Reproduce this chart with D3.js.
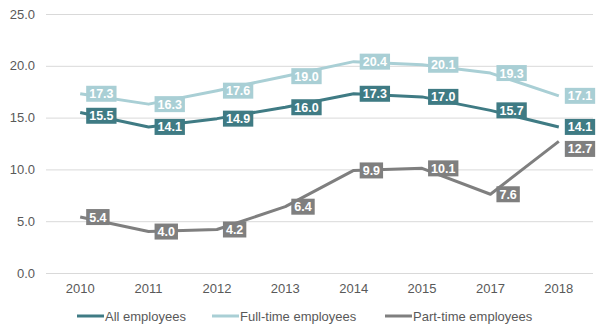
<!DOCTYPE html>
<html>
<head>
<meta charset="utf-8">
<script src="https://cdn.jsdelivr.net/npm/d3@7"></script>
<style>
  html, body { margin: 0; padding: 0; background: #fff; }
  svg { display: block; font-family: "Liberation Sans", Arial, sans-serif; }
</style>
</head>
<body>
<svg id="chart" width="608" height="336"></svg>
<script>
// Chart data
const years = ["2010", "2011", "2012", "2013", "2014", "2015", "2017", "2018"];
const allEmployees = [15.5, 14.1, 14.9, 16.0, 17.3, 17.0, 15.7, 14.1];
const fullTime = [17.3, 16.3, 17.6, 19.0, 20.4, 20.1, 19.3, 17.1];
const partTime = [5.4, 4.0, 4.2, 6.4, 9.9, 10.1, 7.6, 12.7];
const yTicks = [0, 5, 10, 15, 20, 25];

const seriesNames = ["All employees", "Full-time employees", "Part-time employees"];
const seriesColors = ["#3f7b84", "#a9cfd5", "#7f7f7f"];
const series = [allEmployees, fullTime, partTime].map((values, i) => ({
  name: seriesNames[i], color: seriesColors[i], values
}));

const svg = d3.select("#chart");
const margin = { left: 46, right: 15, top: 14, bottom: 63 };
const W = 608, H = 336;

const x = d3.scaleBand().domain(years).range([margin.left, W - margin.right]);
const y = d3.scaleLinear().domain([0, 25]).range([H - margin.bottom, margin.top]);
const cx = d => x(d) + x.bandwidth() / 2;

// Horizontal gridlines + y labels
const yAxis = d3.axisLeft(y).tickValues(yTicks).tickFormat(d3.format(".1f"))
  .tickSize(-(W - margin.left - margin.right)).tickPadding(11);
const gy = svg.append("g").attr("transform", `translate(${margin.left},0)`).call(yAxis);
gy.select(".domain").remove();
gy.selectAll(".tick line").attr("stroke", "#d9d9d9").attr("stroke-width", 1);
gy.selectAll(".tick text").attr("fill", "#595959").attr("font-size", 13);

// x labels
const xAxis = d3.axisBottom(x).tickSize(0).tickPadding(11);
const gx = svg.append("g").attr("transform", `translate(0,${y(0)})`).call(xAxis);
gx.select(".domain").remove();
gx.selectAll(".tick text").attr("fill", "#595959").attr("font-size", 13);

// Lines
const line = d3.line().x((d, i) => cx(years[i])).y(d => y(d));
series.forEach(s => {
  svg.append("path")
    .datum(s.values)
    .attr("fill", "none")
    .attr("stroke", s.color)
    .attr("stroke-width", 3)
    .attr("stroke-linejoin", "round")
    .attr("d", line);
});

// Data labels: right of each point, nudged apart when they collide
const labels = [];
series.forEach(s => s.values.forEach((v, i) => {
  labels.push({ s, v, i, cy: y(v) });
}));
const minGap = 22;
years.forEach((yr, i) => {
  const group = labels.filter(l => l.i === i).sort((a, b) => a.cy - b.cy);
  for (let k = 1; k < group.length; k++) {
    if (group[k].cy - group[k - 1].cy < minGap) group[k].cy = group[k - 1].cy + minGap;
  }
});

const boxH = 16, padX = 3;
labels.forEach(l => {
  const g = svg.append("g").attr("transform", `translate(${cx(years[l.i]) + 6},${l.cy})`);
  const t = g.append("text")
    .attr("x", padX).attr("y", 0).attr("dy", "0.36em")
    .attr("fill", "#fff").attr("font-weight", "bold").attr("font-size", 12.5)
    .text(d3.format(".1f")(l.v));
  const w = t.node().getComputedTextLength() + padX * 2;
  g.insert("rect", "text")
    .attr("x", 0).attr("y", -boxH / 2).attr("width", w).attr("height", boxH)
    .attr("fill", l.s.color);
});

// Legend
const legendItems = [
  { x: 77 }, { x: 212 }, { x: 385 }
];
const ly = 316;
series.forEach((s, i) => {
  const g = svg.append("g").attr("transform", `translate(${legendItems[i].x},${ly})`);
  g.append("line").attr("x1", 0).attr("x2", 27).attr("y1", 0).attr("y2", 0)
    .attr("stroke", s.color).attr("stroke-width", 3);
  g.append("text").attr("x", 28).attr("y", 0).attr("dy", "0.35em")
    .attr("fill", "#595959").attr("font-size", 13).text(s.name);
});
</script>
</body>
</html>
